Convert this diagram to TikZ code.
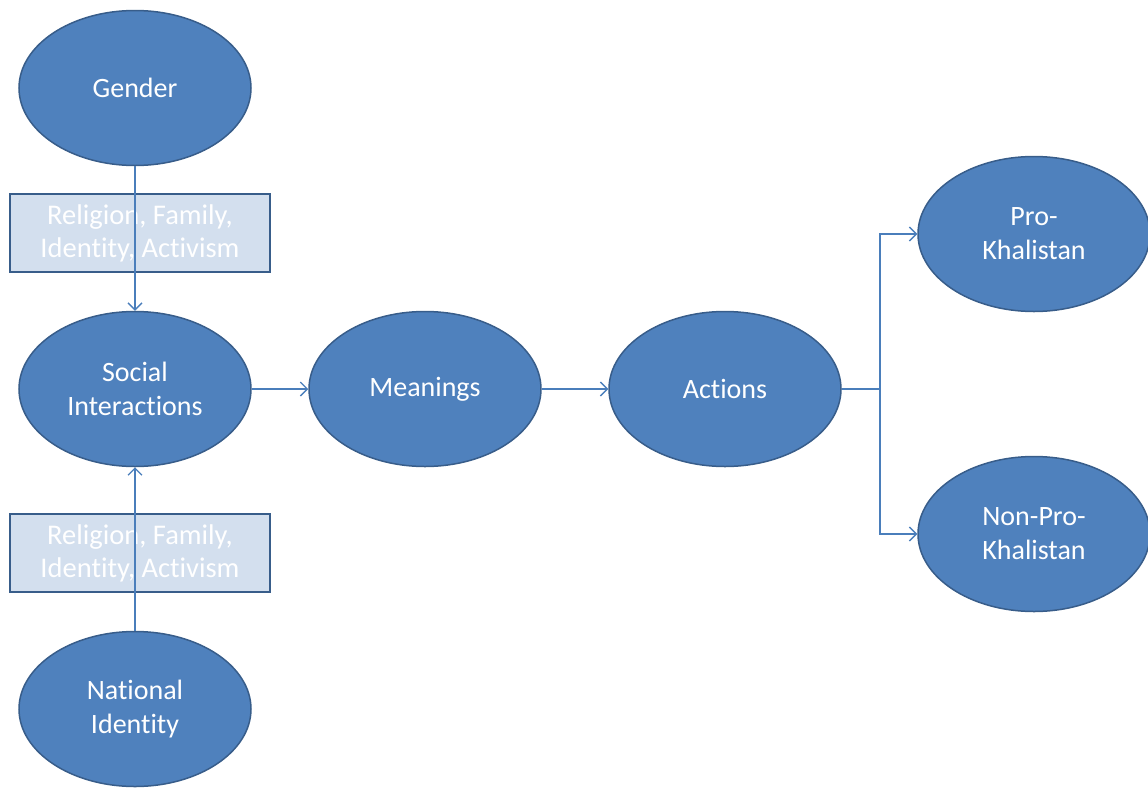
\documentclass[tikz,border=0pt]{standalone}
\usepackage{fontspec}
\setmainfont[Ligatures=NoCommon]{Carlito}
\usetikzlibrary{shapes.geometric,arrows.meta}

\definecolor{ovalfill}{HTML}{4F81BD}
\definecolor{ovaledge}{HTML}{385D8A}
\definecolor{boxfill}{HTML}{D3DFEE}
\definecolor{linkcol}{HTML}{4A7EBB}

\tikzset{
    oval/.style={ellipse,fill=ovalfill,draw=ovaledge,line width=1.5pt,
        minimum width=232pt,minimum height=155pt,inner sep=0pt,
        text=white,align=center,font=\fontsize{28}{34}\selectfont},
    tagbox/.style={rectangle,fill=boxfill,draw=ovaledge,line width=1.8pt,
        minimum width=260pt,minimum height=78pt,inner sep=0pt,
        text=white,align=center,font=\fontsize{28.5}{33}\selectfont},
    link/.style={draw=linkcol,line width=1.3pt,-{Straight Barb[length=7pt,width=14pt]}}
}

\begin{document}
\begin{tikzpicture}[x=1pt,y=1pt]

\useasboundingbox (0,0) rectangle (1148,-787);

% left column
\node[oval] (gender) at (135,-88) {Gender};
\node[oval] (social) at (135,-389) {Social\\Interactions};
\node[oval] (nation) at (135,-709) {National\\Identity};

\node[tagbox] (tagtop) at (140,-233) {Religion, Family,\\Identity, Activism};
\node[tagbox] (tagbot) at (140,-553) {Religion, Family,\\Identity, Activism};

% middle
\node[oval] (meanings) at (425,-389) {Meanings};
\node[oval] (actions) at (725,-389) {Actions};

% outcomes
\node[oval] (pro) at (1034,-234) {Pro-\\Khalistan};
\node[oval] (nonpro) at (1034,-534) {Non-Pro-\\Khalistan};

\coordinate (split) at (880,-389);

\draw[link] (gender) -- (social);
\draw[link] (nation) -- (social);
\draw[link] (social) -- (meanings);
\draw[link] (meanings) -- (actions);
\draw[draw=linkcol,line width=1.3pt] (actions) -- (split);
\draw[link] (split) |- (pro);
\draw[link] (split) |- (nonpro);

\end{tikzpicture}
\end{document}
